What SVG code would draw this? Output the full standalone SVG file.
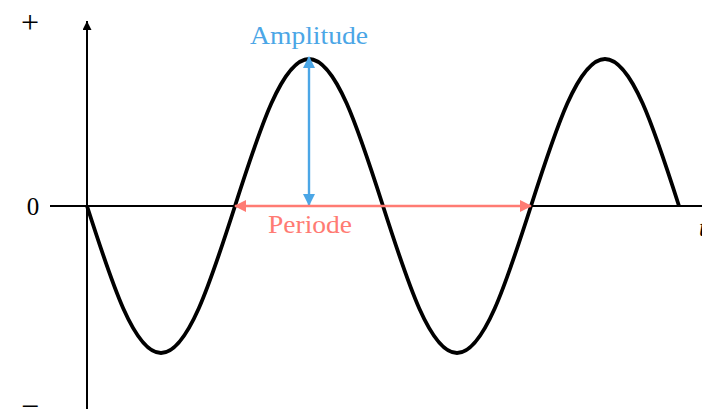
<svg xmlns="http://www.w3.org/2000/svg" width="702" height="409" viewBox="0 0 702 409">
<style>
.lbl{font-family:"Liberation Serif","Times New Roman",serif;}
.axis{stroke:#000;stroke-width:1.1;fill:none;shape-rendering:crispEdges;}
.wave{stroke:#000;stroke-width:3.8;fill:none;stroke-linejoin:round;}
.amp{stroke:#4ba6e6;stroke-width:2.4;fill:none;}
.per{stroke:#ff7b73;stroke-width:2.4;fill:none;}
</style>
<defs>
<marker id="ahBlack" viewBox="0 0 10 10" refX="10" refY="5" markerUnits="userSpaceOnUse" markerWidth="10" markerHeight="9" orient="auto"><path d="M0,0 L10,5 L0,10 Z" fill="#000"/></marker>
<marker id="ahBlue" viewBox="0 0 12 12" refX="11" refY="6" markerUnits="userSpaceOnUse" markerWidth="12" markerHeight="12" orient="auto-start-reverse"><path d="M0,0 L12,6 L0,12 Z" fill="#4ba6e6"/></marker>
<marker id="ahRed" viewBox="0 0 12 12" refX="11" refY="6" markerUnits="userSpaceOnUse" markerWidth="12" markerHeight="12" orient="auto-start-reverse"><path d="M0,0 L12,6 L0,12 Z" fill="#ff7b73"/></marker>
</defs>
<g id="axes">
<line class="axis" x1="50" y1="206" x2="702" y2="206"/>
<line class="axis" x1="87" y1="409" x2="87" y2="21" marker-end="url(#ahBlack)"/>
<text class="lbl" x="30" y="33" font-size="32" text-anchor="middle">+</text>
<text class="lbl" x="33" y="215" font-size="25" text-anchor="middle">0</text>
<text class="lbl" x="30" y="417" font-size="32" text-anchor="middle">−</text>
<text class="lbl" x="699" y="236" font-size="25" font-style="italic">t</text>
</g>
<g id="wave">
<path class="wave" d="M87,206 C111.74,283.19 134.35,353 161,353 C187.65,353 210.26,283.19 235,206 C259.74,128.81 282.35,59 309,59 C335.65,59 358.26,128.81 383,206 C407.74,283.19 430.35,353 457,353 C483.65,353 506.26,283.19 531,206 C555.74,128.81 578.35,59 605,59 C631.65,59 654.26,128.81 679,206"/>
</g>
<g id="connectors">
<line class="amp" x1="309" y1="57" x2="309" y2="205" marker-start="url(#ahBlue)" marker-end="url(#ahBlue)"/>
<line class="per" x1="235" y1="206" x2="531" y2="206" marker-start="url(#ahRed)" marker-end="url(#ahRed)"/>
</g>
<g id="amplitude-label">
<text class="lbl" x="309" y="44" font-size="25" text-anchor="middle" fill="#4ba6e6" textLength="118" lengthAdjust="spacingAndGlyphs">Amplitude</text>
</g>
<g id="periode-label">
<text class="lbl" x="310" y="233" font-size="25" text-anchor="middle" fill="#ff7b73" textLength="84" lengthAdjust="spacingAndGlyphs">Periode</text>
</g>
</svg>
